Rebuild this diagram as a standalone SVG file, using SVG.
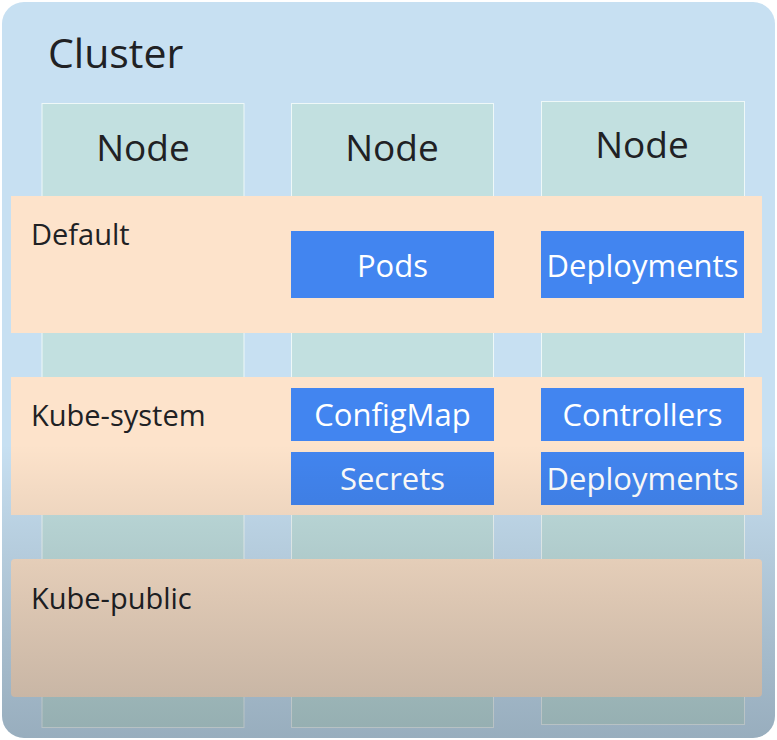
<svg xmlns="http://www.w3.org/2000/svg" width="777" height="740" viewBox="0 0 777 740">
<style>
  .t { font-family: "Open Sans", "Liberation Sans", sans-serif; fill: #202124; }
  .node { fill: #c2e0e0; stroke: #eef8f8; stroke-width: 1; }
  .band { fill: #fde3cb; }
  .box { fill: #4285f0; }
  .bt { font-family: "Open Sans", "Liberation Sans", sans-serif; fill: #ffffff; font-size: 31px; text-anchor: middle; }
  .nt { font-size: 37px; text-anchor: middle; }
  .lt { font-size: 29px; }
</style>
<defs>
  <linearGradient id="shade" x1="0" y1="0" x2="0" y2="740" gradientUnits="userSpaceOnUse">
    <stop offset="0" stop-color="#000" stop-opacity="0"/>
    <stop offset="0.6" stop-color="#000" stop-opacity="0"/>
    <stop offset="1" stop-color="#0a1520" stop-opacity="0.25"/>
  </linearGradient>
  <clipPath id="clusterClip"><rect x="2" y="2" width="773" height="736" rx="22"/></clipPath>
</defs>
<rect width="777" height="740" fill="#ffffff"/>
<g id="cluster">
  <rect x="2" y="2" width="773" height="736" rx="22" fill="#c7e0f2"/>
  <text class="t" x="48" y="68" font-size="41">Cluster</text>
</g>
<g id="node1">
  <rect class="node" x="42" y="103.5" width="202" height="624"/>
  <text class="t nt" x="143" y="161">Node</text>
</g>
<g id="node2">
  <rect class="node" x="291.5" y="103.5" width="202" height="624"/>
  <text class="t nt" x="392" y="161">Node</text>
</g>
<g id="node3">
  <rect class="node" x="541.5" y="101.5" width="203" height="623"/>
  <text class="t nt" x="642" y="158">Node</text>
</g>
<g id="ns-default">
  <rect class="band" x="11" y="196" width="751" height="137"/>
  <text class="t lt" x="31" y="245">Default</text>
</g>
<g id="ns-kube-system">
  <rect class="band" x="11" y="377" width="751" height="138"/>
  <text class="t lt" x="31" y="426">Kube-system</text>
</g>
<g id="ns-kube-public">
  <rect class="band" x="11" y="559" width="751" height="138" rx="4"/>
  <text class="t lt" x="31" y="609">Kube-public</text>
</g>
<g id="pods">
  <rect class="box" x="291" y="231" width="203" height="67"/>
  <text class="bt" x="392.5" y="277">Pods</text>
</g>
<g id="deployments-default">
  <rect class="box" x="541" y="231" width="203" height="67"/>
  <text class="bt" x="642.5" y="277">Deployments</text>
</g>
<g id="configmap">
  <rect class="box" x="291" y="388" width="203" height="53"/>
  <text class="bt" x="392.5" y="426">ConfigMap</text>
</g>
<g id="controllers">
  <rect class="box" x="541" y="388" width="203" height="53"/>
  <text class="bt" x="642.5" y="426">Controllers</text>
</g>
<g id="secrets">
  <rect class="box" x="291" y="452" width="203" height="53"/>
  <text class="bt" x="392.5" y="490">Secrets</text>
</g>
<g id="deployments-system">
  <rect class="box" x="541" y="452" width="203" height="53"/>
  <text class="bt" x="642.5" y="490">Deployments</text>
</g>
<g id="connectors"></g>
<rect x="0" y="0" width="777" height="740" fill="url(#shade)" clip-path="url(#clusterClip)"/>
</svg>
